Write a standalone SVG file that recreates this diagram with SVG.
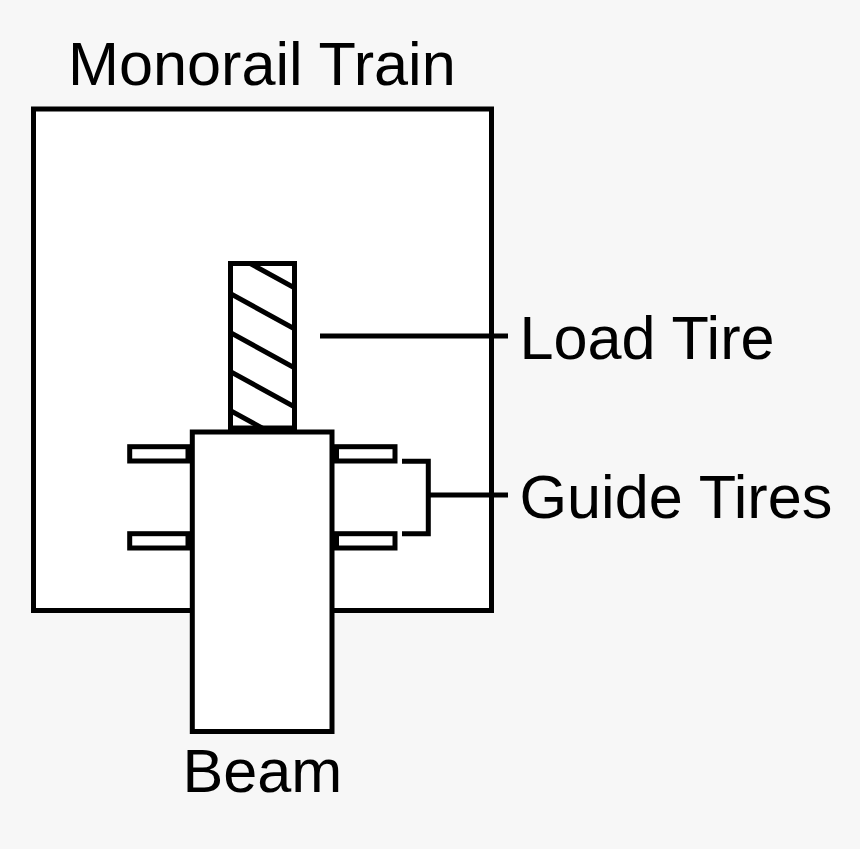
<svg xmlns="http://www.w3.org/2000/svg" width="860" height="849" viewBox="0 0 860 849">
<style>
.s{fill:#fff;stroke:#000;stroke-width:5}
.l{fill:none;stroke:#000;stroke-width:5}
text{font-family:"Liberation Sans",Arial,sans-serif;font-size:61.2px;fill:#000}
</style>
<defs><clipPath id="c"><rect x="231" y="264" width="63" height="164"/></clipPath></defs>
<rect width="860" height="849" fill="#f7f7f7"/>
<g id="train"><rect class="s" x="33.500" y="109" width="458" height="501.500"/><text x="68" y="85">Monorail Train</text></g>
<g id="load-tire"><rect class="s" x="230.500" y="263.500" width="64" height="164.500"/>
<g clip-path="url(#c)" class="l"><path d="M231 253l63 34.500M231 294l63 34.500M231 333l63 34.500M231 372l63 34.500M231 411l63 34.500"/></g></g>
<g id="guide-tires">
<rect class="s" x="129.700" y="446.700" width="58.300" height="14.300"/><rect class="s" x="129.700" y="533.700" width="58.300" height="14.300"/>
<rect class="s" x="336.500" y="446.700" width="58.500" height="14.300"/><rect class="s" x="336.500" y="533.700" width="58.500" height="14.300"/></g>
<g id="beam"><rect class="s" x="192.300" y="432" width="139.700" height="299.500"/><text x="182.500" y="792">Beam</text></g>
<g id="connectors"><path class="l" d="M320 336H508M402 461.300H428.300V533.700H402M428.300 495H508"/></g>
<g id="labels"><text x="519.500" y="359">Load Tire</text><text x="519.500" y="518">Guide Tires</text></g>
</svg>
